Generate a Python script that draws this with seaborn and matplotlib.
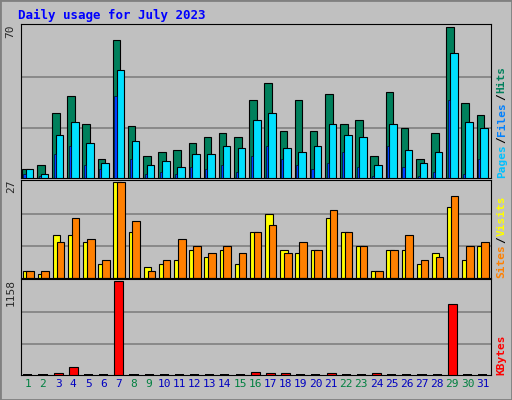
import numpy as np
import matplotlib
matplotlib.use("Agg")
import matplotlib.pyplot as plt
import seaborn as sns

days = list(range(1, 32))
weekend = [1, 2, 8, 9, 15, 16, 22, 23, 29, 30]
hits = [4, 6, 30, 38, 25, 9, 64, 24, 10, 12, 13, 16, 19, 21, 19, 36, 44, 22, 36, 22, 39, 25, 27, 10, 40, 23, 9, 21, 70, 35, 29]
files = [4, 2, 20, 26, 16, 7, 50, 17, 6, 8, 5, 11, 11, 15, 14, 27, 30, 14, 12, 15, 25, 20, 19, 6, 25, 13, 7, 12, 58, 26, 23]
pages = [2, 1, 11, 15, 6, 4, 38, 9, 2, 3, 2, 5, 4, 6, 3, 10, 15, 9, 6, 4, 7, 12, 5, 1, 15, 5, 1, 3, 36, 2, 9]
sites = [2, 1, 12, 12, 10, 4, 27, 13, 3, 4, 5, 8, 6, 8, 4, 13, 18, 8, 7, 8, 17, 13, 9, 2, 8, 8, 4, 7, 20, 5, 9]
visits = [2, 2, 10, 17, 11, 5, 27, 16, 2, 5, 11, 9, 7, 9, 7, 13, 15, 7, 10, 8, 19, 13, 9, 2, 8, 12, 5, 6, 23, 9, 10]
kbytes = [0, 0, 25, 100, 0, 0, 1158, 0, 0, 0, 0, 0, 0, 0, 0, 38, 25, 25, 0, 0, 25, 0, 0, 25, 0, 0, 0, 0, 878, 0, 0]

sns.set_style("white")
plt.rcParams["font.family"] = ["DejaVu Sans Mono", "DejaVu Sans"]

BG = "#C0C0C0"
fig = plt.figure(figsize=(5.12, 4.0), dpi=100, facecolor=BG)
x = np.array(days, dtype=float)
L, W = 21 / 512, 470 / 512


def panel(bottom, top, ymax):
    ax = fig.add_axes([L, bottom / 400, W, (top - bottom) / 400])
    ax.set_facecolor(BG)
    ax.set_xlim(0.55, 31.55)
    ax.set_ylim(0, ymax * 1.02)
    for g in (ymax / 3, ymax * 2 / 3):
        ax.axhline(g, color="#808080", lw=1.2, zorder=0)
    ax.set_xticks([])
    ax.set_yticks([])
    for s in ax.spines.values():
        s.set_color("black")
    ax.text(-0.022, 1.0, str(ymax), transform=ax.transAxes, rotation=90,
            ha="center", va="top", fontsize=8)
    return ax


# hits / files / pages
ax1 = panel(222, 376, 70)
ax1.bar(x - 0.15, hits, width=0.5, color="#00805C", edgecolor="black", lw=0.8, zorder=2)
ax1.bar(x + 0.1, files, width=0.5, color="#00E0FF", edgecolor="black", lw=0.8, zorder=3)
ax1.bar(x - 0.22, pages, width=0.14, color="#0040FF", edgecolor="black", lw=0.4, zorder=4)

# sites / visits
ax2 = panel(122, 220, 27)
ax2.bar(x - 0.1, sites, width=0.5, color="#FFFF00", edgecolor="black", lw=0.8)
ax2.bar(x + 0.15, visits, width=0.5, color="#FF8000", edgecolor="black", lw=0.8)

# kbytes
ax3 = panel(25, 121, 1158)
ax3.bar(x, [8] * 31, width=0.6, color="black", lw=0, zorder=2)
ax3.bar(x, kbytes, width=0.6, color="#FF0000", edgecolor="black", lw=0.8, zorder=3)

for d in days:
    ax3.text(d, -0.04, str(d), transform=ax3.get_xaxis_transform(), ha="center",
             va="top", fontsize=8, color="#008040" if d in weekend else "#0000C0")


# right side legends
def side(ax, parts):
    y = 0.0
    for txt, col in parts:
        ax.text(1.012, y, txt, transform=ax.transAxes, rotation=90,
                ha="left", va="bottom", fontsize=8, color=col, weight="bold")
        y += len(txt) * 0.047 * (150 / ax.bbox.height)


side(ax1, [("Pages", "#00C0FF"), ("/", "black"), ("Files", "#0080FF"), ("/", "black"), ("Hits", "#00805C")])
side(ax2, [("Sites", "#FF8000"), ("/", "black"), ("Visits", "#FFFF00")])
side(ax3, [("KBytes", "#FF0000")])

fig.text(18 / 512, 1 - 15 / 400, "Daily usage for July 2023", color="#0000FF",
         weight="bold", fontsize=9, va="center")
fig.patches.append(plt.Rectangle((0, 0), 1, 1, transform=fig.transFigure,
                                 fill=False, edgecolor="#808080", lw=2))
fig.savefig("out.png", dpi=100, facecolor=BG)
